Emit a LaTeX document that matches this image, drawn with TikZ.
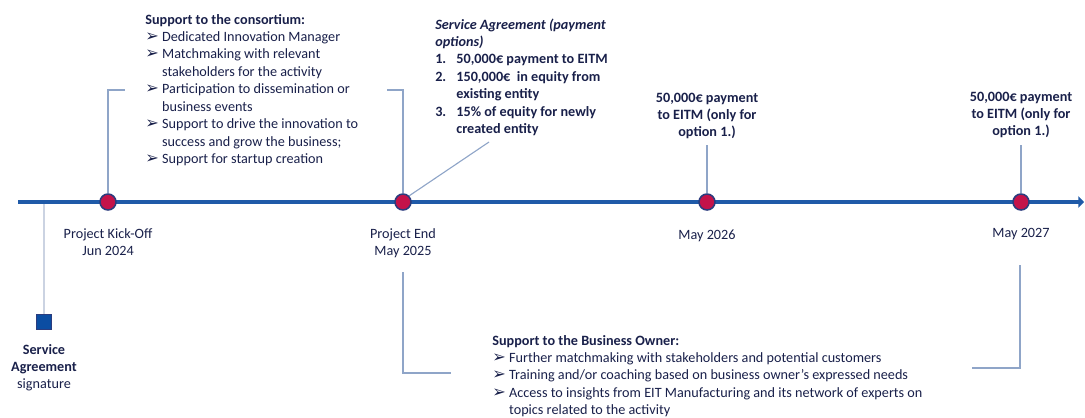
\documentclass[tikz,border=0pt]{standalone}
\usepackage{fontspec}
\setmainfont{Carlito}
\newfontfamily\symfont{DejaVu Sans}
\usepackage{xcolor}
\usetikzlibrary{arrows.meta,positioning,calc}

\definecolor{tlblue}{HTML}{1F5AA8}
\definecolor{dotred}{HTML}{C4134A}
\definecolor{dotedge}{HTML}{2B3C7E}
\definecolor{navy}{HTML}{19204A}
\definecolor{brkblue}{HTML}{8FA5C8}
\definecolor{sigline}{HTML}{CBD3E2}
\definecolor{sqblue}{HTML}{0B4DA2}

\newcommand{\bul}{\makebox[12pt][l]{\symfont\fontsize{11.5}{9}\selectfont ➢}}
\newcommand{\num}[1]{\makebox[15pt][l]{#1}}

\tikzset{
  timeline/.style={draw=tlblue,line width=2.2pt,-{Triangle[length=4pt,width=8pt]}},
  milestone/.style={circle,draw=dotedge,fill=dotred,line width=1.1pt,minimum size=0.4cm,inner sep=0pt},
  sigbox/.style={rectangle,draw=dotedge,fill=sqblue,line width=0.8pt,minimum size=0.36cm,inner sep=0pt},
  brk/.style={draw=brkblue,line width=0.8pt},
  txt/.style={inner sep=0pt,text=navy,font=\fontsize{10.1}{12.4}\selectfont},
}

\begin{document}
\begin{tikzpicture}[x=0.025cm,y=-0.025cm]
	\useasboundingbox (0,0) rectangle (1085,417);
	% timeline
	\coordinate (tlstart) at (18,202);
	\coordinate (tlend) at (1084,202);
	\coordinate (sigtop) at (44,202);
	\draw[sigline,line width=1.4pt] (sigtop) -- (44,316);
	\draw[timeline] (tlstart) -- (tlend);
	\node[sigbox] (sig) at (44,322) {};
	\node[milestone] (kick) at (108,202) {};
	\node[milestone] (pend) at (403,202) {};
	\node[milestone] (m26) at (707,202) {};
	\node[milestone] (m27) at (1021,202) {};
	% connectors
	\coordinate (constl) at (125,90);
	\coordinate (constr) at (387,90);
	\coordinate (satip) at (489,142);
	\coordinate (p26tip) at (707,145);
	\coordinate (p27tip) at (1021,145);
	\coordinate (botl) at (403,272);
	\coordinate (botlend) at (451,373);
	\coordinate (botr) at (1020,265);
	\coordinate (botrend) at (972,368);
	\draw[brk] (kick.north) |- (constl);
	\draw[brk] (pend.north) |- (constr);
	\draw[brk] (pend.north east) -- (satip);
	\draw[brk] (m26.north) -- (p26tip);
	\draw[brk] (m27.north) -- (p27tip);
	\draw[brk] (botl) |- (botlend);
	\draw[brk] (botr) |- (botrend);
	% dates
	\node[txt,anchor=base] (kickdate) at (108,238) {\begin{tabular}[t]{@{}c@{}}Project Kick-Off\\Jun 2024\end{tabular}};
	\node[txt,anchor=base] (penddate) at (403,238) {\begin{tabular}[t]{@{}c@{}}Project End\\May 2025\end{tabular}};
	\node[txt,anchor=base] (m26date) at (707,239) {May 2026};
	\node[txt,anchor=base] (m27date) at (1021,237) {May 2027};
	\node[txt,anchor=base] (sigtxt) at (44,354) {\begin{tabular}[t]{@{}c@{}}\textbf{Service}\\\textbf{Agreement}\\signature\end{tabular}};
	% payments
	\node[txt,anchor=base] (p26) at (707,102) {\bfseries\begin{tabular}[t]{@{}c@{}}50,000€ payment\\to EITM (only for\\option 1.)\end{tabular}};
	\node[txt,anchor=base] (p27) at (1021,101) {\bfseries\begin{tabular}[t]{@{}c@{}}50,000€ payment\\to EITM (only for\\option 1.)\end{tabular}};
	% text blocks
	\node[txt,anchor=base west] (cons) at (145,24) {\begin{tabular}[t]{@{}l@{}l@{}}
		\multicolumn{2}{@{}l@{}}{\textbf{Support to the consortium:}}\\
		\bul & Dedicated Innovation Manager\\
		\bul & Matchmaking with relevant\\
		     & stakeholders for the activity\\
		\bul & Participation to dissemination or\\
		     & business events\\
		\bul & Support to drive the innovation to\\
		     & success and grow the business;\\
		\bul & Support for startup creation
	\end{tabular}};
	\node[txt,anchor=base west] (sa) at (435,29) {\bfseries\begin{tabular}[t]{@{}l@{}l@{}}
		\multicolumn{2}{@{}l@{}}{\itshape Service Agreement (payment}\\
		\multicolumn{2}{@{}l@{}}{\itshape options)}\\
		\num{1.} & 50,000€ payment to EITM\\
		\num{2.} & 150,000€ \ in equity from\\
		         & existing entity\\
		\num{3.} & 15\% of equity for newly\\
		         & created entity
	\end{tabular}};
	\node[txt,anchor=base west] (bo) at (492,345) {\begin{tabular}[t]{@{}l@{}l@{}}
		\multicolumn{2}{@{}l@{}}{\textbf{Support to the Business Owner:}}\\
		\bul & Further matchmaking with stakeholders and potential customers\\
		\bul & Training and/or coaching based on business owner’s expressed needs\\
		\bul & Access to insights from EIT Manufacturing and its network of experts on\\
		     & topics related to the activity
	\end{tabular}};
\end{tikzpicture}
\end{document}
